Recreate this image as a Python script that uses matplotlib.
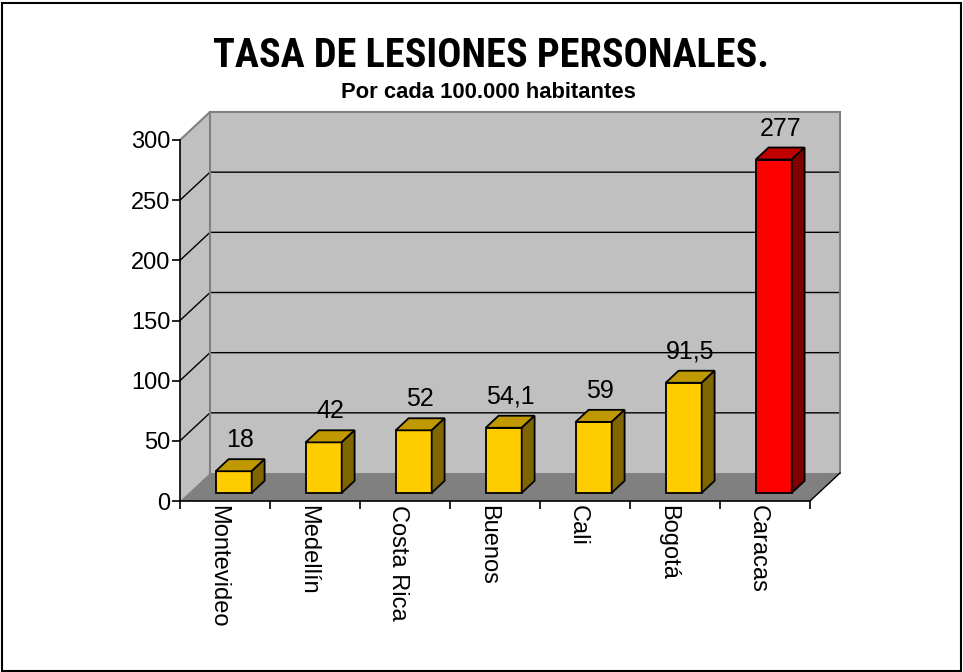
import matplotlib
matplotlib.use('Agg')
import matplotlib.pyplot as plt
from matplotlib.patches import Polygon, Rectangle
from matplotlib.transforms import ScaledTranslation
from matplotlib import font_manager
import numpy as np

categories = ['Montevideo', 'Medellín', 'Costa Rica', 'Buenos', 'Cali', 'Bogotá', 'Caracas']
values = [18, 42, 52, 54.1, 59, 91.5, 277]
value_labels = ['18', '42', '52', '54,1', '59', '91,5', '277']
yticks = [0, 50, 100, 150, 200, 250, 300]
title = 'TASA DE LESIONES PERSONALES.'
subtitle = 'Por cada 100.000 habitantes'

front_colors = ['#FFCC00'] * 6 + ['#FF0000']
top_colors = ['#C09900'] * 6 + ['#C00000']
side_colors = ['#806600'] * 6 + ['#800000']

plt.rcParams['font.family'] = ['Liberation Sans', 'DejaVu Sans']

W, H = 963, 672
fig = plt.figure(figsize=(W / 100, H / 100), dpi=100)
fig.patch.set_facecolor('white')
ax = fig.add_axes([180 / W, (H - 501) / H, 630 / W, 361 / H])
n = len(categories)
x = np.arange(n)
ymax = yticks[-1]
ax.set_xlim(-0.5, n - 0.5)
ax.set_ylim(0, ymax)
ax.patch.set_visible(False)

DX = 30 / 90
DY = 28 * ymax / 361
xl, xr = -0.5, n - 0.5

# walls and floor
ax.add_patch(Polygon([(xl, 0), (xl + DX, DY), (xl + DX, ymax + DY), (xl, ymax)],
                     closed=True, fc='#C0C0C0', ec='none', clip_on=False, zorder=0))
ax.add_patch(Polygon([(xl + DX, DY), (xr + DX, DY), (xr + DX, ymax + DY), (xl + DX, ymax + DY)],
                     closed=True, fc='#C0C0C0', ec='none', clip_on=False, zorder=0))
ax.add_patch(Polygon([(xl, 0), (xr, 0), (xr + DX, DY), (xl + DX, DY)],
                     closed=True, fc='#808080', ec='none', clip_on=False, zorder=0.5))
for v in yticks[1:-1]:
    ax.plot([xl, xl + DX, xr + DX], [v, v + DY, v + DY], color='black', lw=1,
            clip_on=False, zorder=1)
ax.plot([xl, xl + DX, xr + DX, xr + DX], [ymax, ymax + DY, ymax + DY, DY],
        color='#808080', lw=1.5, clip_on=False, zorder=1, solid_joinstyle='miter')
ax.plot([xl + DX, xl + DX], [DY, ymax + DY], color='#808080', lw=1.5, clip_on=False, zorder=1)
ax.plot([xr, xr + DX], [0, DY], color='black', lw=1, clip_on=False, zorder=1)

# bars
F0, BD, BW = 0.29, 0.43, 0.4
xf = x + F0 * DX
yb = F0 * DY
ddx, ddy = BD * DX, BD * DY
ax.bar(xf, values, width=BW, bottom=yb, color=front_colors, edgecolor='black',
       linewidth=1.3, zorder=3)
lab_off = ScaledTranslation(0, 12 / 100, fig.dpi_scale_trans)
for i, v in enumerate(values):
    l, r = xf[i] - BW / 2, xf[i] + BW / 2
    t = yb + v
    ax.add_patch(Polygon([(l, t), (r, t), (r + ddx, t + ddy), (l + ddx, t + ddy)], closed=True,
                         fc=top_colors[i], ec='black', lw=1.3, clip_on=False, zorder=3))
    ax.add_patch(Polygon([(r, yb), (r + ddx, yb + ddy), (r + ddx, t + ddy), (r, t)], closed=True,
                         fc=side_colors[i], ec='black', lw=1.3, clip_on=False, zorder=3))
    ax.text(x[i] + (F0 + BD / 2) * DX, t + ddy, value_labels[i], ha='center', va='baseline',
            fontsize=18, transform=ax.transData + lab_off, zorder=4)

# axes
for s in ['top', 'right']:
    ax.spines[s].set_visible(False)
for s in ['left', 'bottom']:
    ax.spines[s].set_color('black')
    ax.spines[s].set_linewidth(1.2)
ax.set_yticks(yticks)
ax.set_yticklabels([str(v) for v in yticks])
ax.tick_params(axis='y', direction='out', length=6, width=1.2, pad=1, labelsize=17)
ax.set_xticks(np.arange(n + 1) - 0.5)
ax.set_xticklabels([''] * (n + 1))
ax.tick_params(axis='x', which='major', direction='out', length=6, width=1.2)
ax.set_xticks(x, minor=True)
ax.set_xticklabels(categories, minor=True, rotation=270, fontsize=17)
ax.tick_params(axis='x', which='minor', length=0, pad=3)
shift = ScaledTranslation(-7 / 100, 0, fig.dpi_scale_trans)
for lab in ax.get_xticklabels(minor=True):
    lab.set_transform(lab.get_transform() + shift)

# titles
names = {f.name for f in font_manager.fontManager.ttflist}
narrow = [f for f in ['Liberation Sans Narrow', 'Roboto Condensed', 'Arial Narrow',
                      'Open Sans Condensed'] if f in names]
if narrow:
    fig.text(490.5 / W, 1 - 67 / H, title, ha='center', va='baseline', fontsize=29,
             fontweight='bold', family=[narrow[0], 'DejaVu Sans'])
else:
    fig.text(490.5 / W, 1 - 67 / H, title, ha='center', va='baseline', fontsize=23.2,
             fontweight='bold')
fig.text(488 / W, 1 - 98 / H, subtitle, ha='center', va='baseline', fontsize=15.8,
         fontweight='bold')

fig.add_artist(Rectangle((1.5 / W, 1.5 / H), (W - 4) / W, (H - 4) / H,
                         transform=fig.transFigure, fill=False, ec='black', lw=1.5))

fig.savefig('out.png', dpi=100)
